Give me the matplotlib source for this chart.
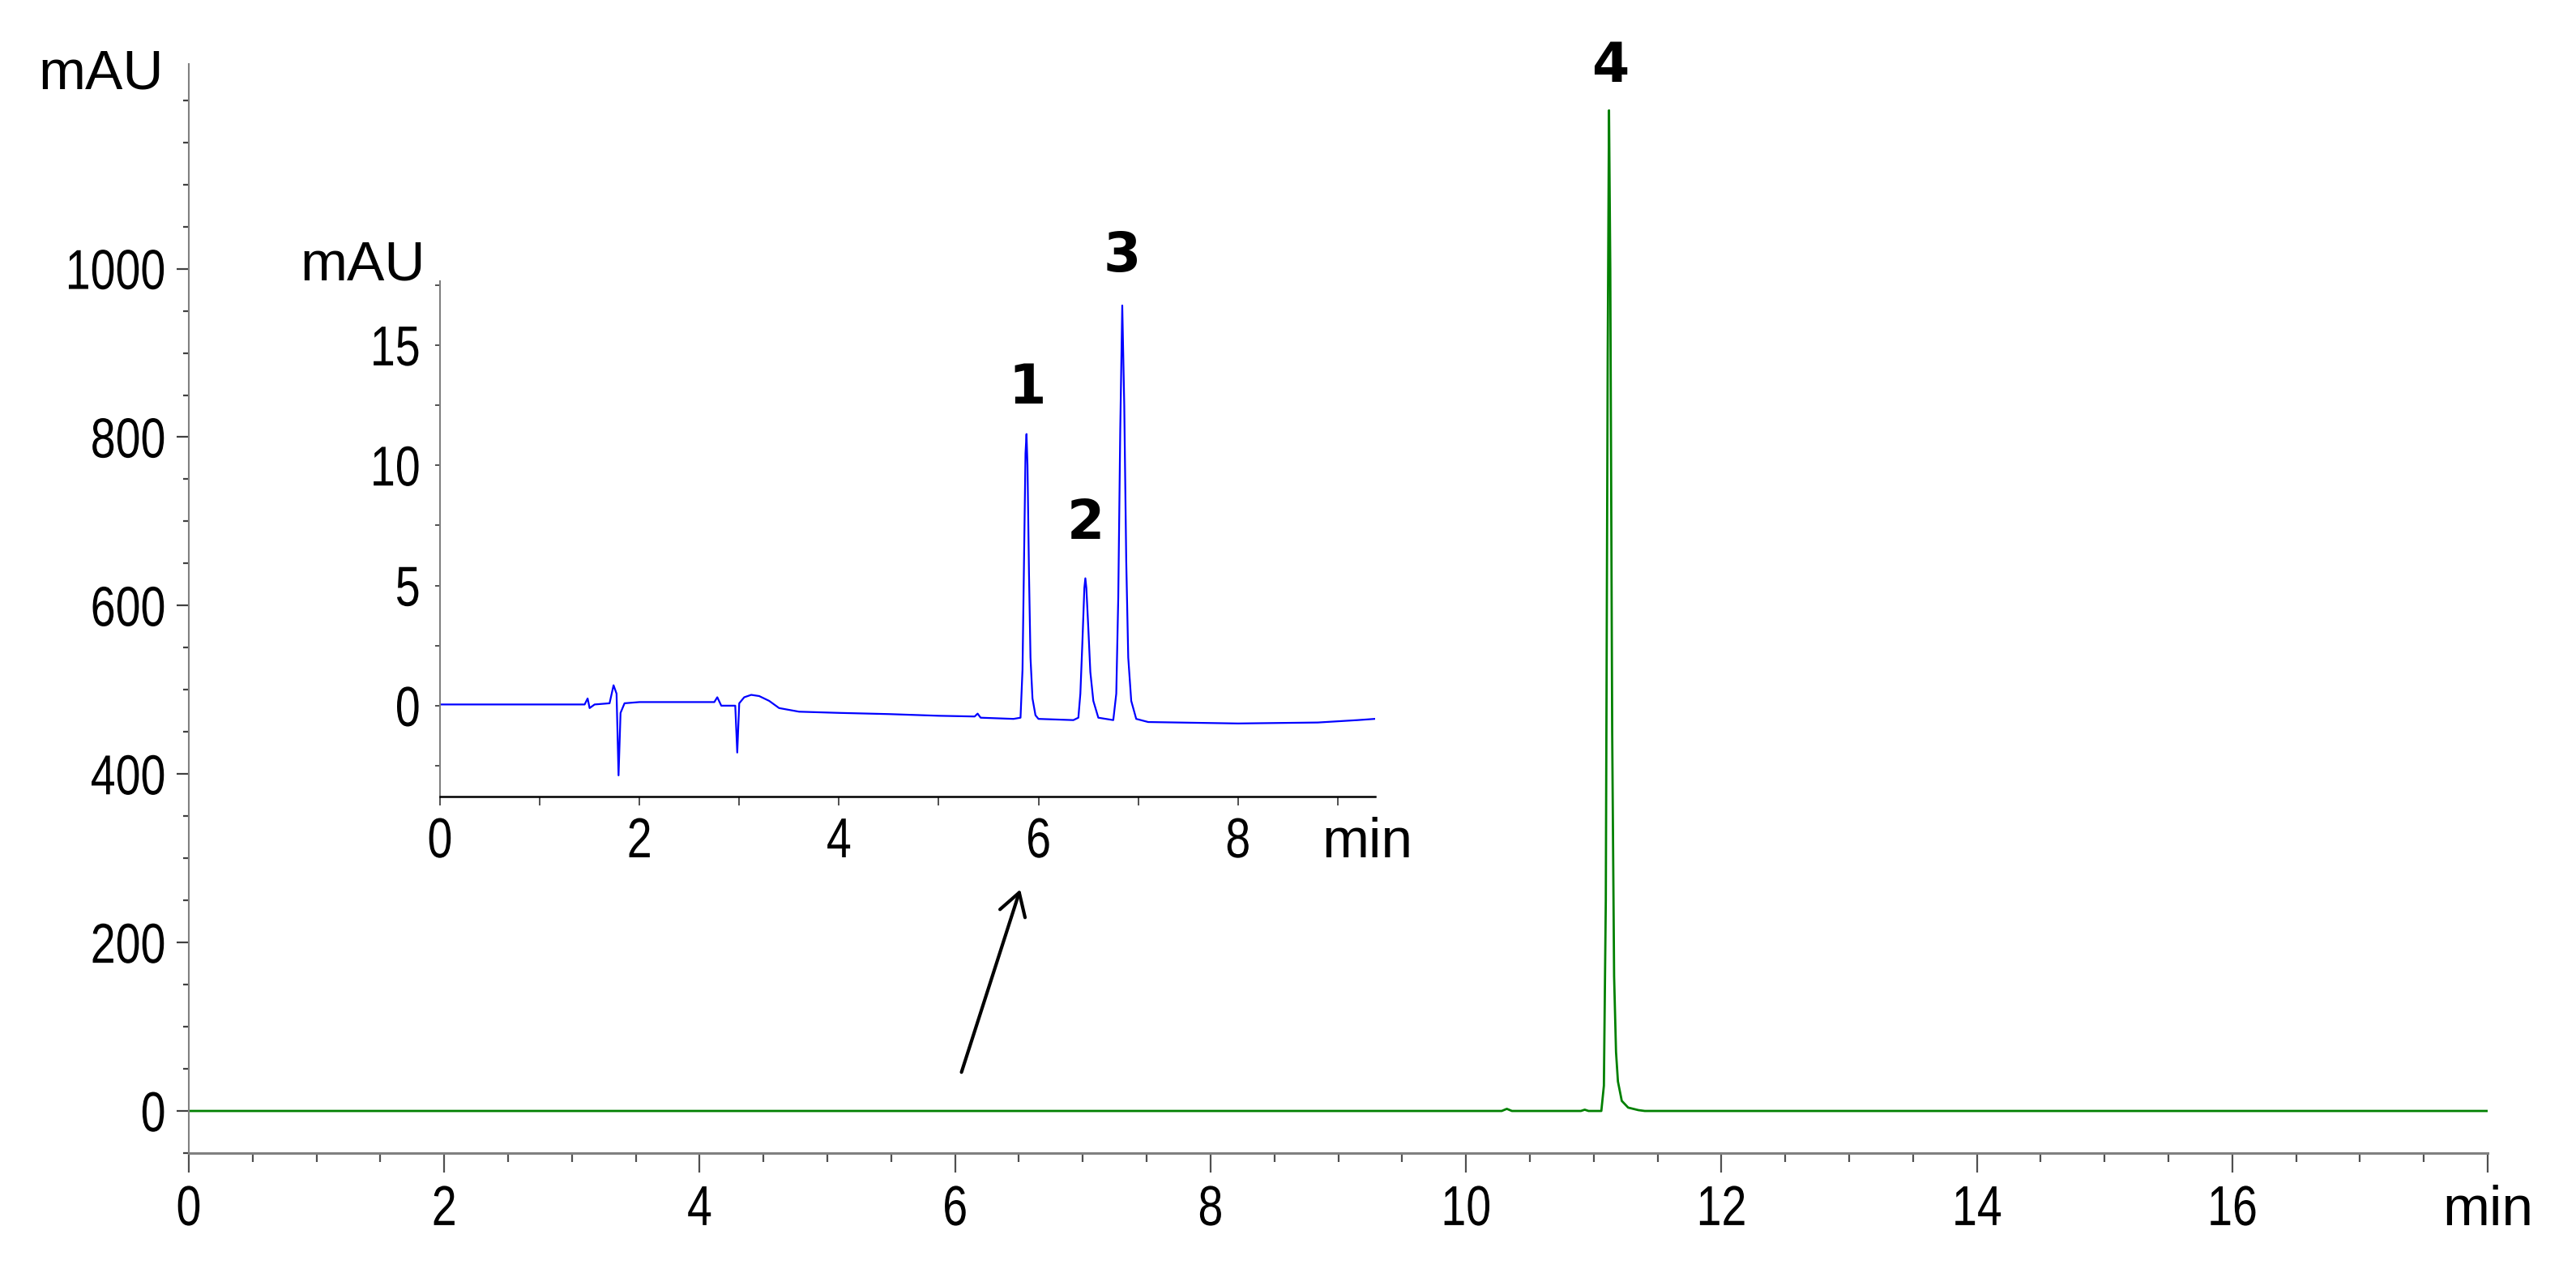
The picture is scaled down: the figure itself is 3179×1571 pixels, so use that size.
"""
    HPLC chromatogram (main trace, peak 4) with an inset zoom of the
    first 9.4 min (peaks 1-3)
"""

import matplotlib
matplotlib.use("Agg")
import matplotlib.pyplot as plt
import matplotlib.ticker as mticker
from matplotlib.patheffects import AbstractPathEffect
from matplotlib.transforms import Affine2D

plt.rcParams['font.family'] = ['Liberation Sans', 'DejaVu Sans']

W, H, DPI = 3179, 1571, 100

# main trace (min, mAU)
main_t = [0.0, 10.28, 10.32, 10.36, 10.90, 10.93, 10.96, 11.06, 11.08, 11.095,
          11.11, 11.12, 11.13, 11.145, 11.16, 11.175, 11.19, 11.22, 11.27,
          11.35, 11.40, 18.0]
main_y = [0.0, 0.0, 2.5, 0.0, 0.0, 1.5, 0.0, 0.0, 30.0, 250.0,
          900.0, 1188.0, 1000.0, 450.0, 160.0, 70.0, 35.0, 12.0, 4.0,
          1.0, 0.0, 0.0]

# inset trace (min, mAU)
ins_t = [0.0, 1.0, 1.45, 1.48, 1.50, 1.55, 1.70, 1.74, 1.77, 1.79, 1.81, 1.85,
         2.0, 2.75, 2.78, 2.82, 2.96, 2.98, 3.00, 3.05, 3.12, 3.20, 3.30,
         3.40, 3.60, 4.0, 4.5, 5.0, 5.36, 5.39, 5.42, 5.75,
         5.82, 5.84, 5.855, 5.87, 5.88, 5.89, 5.905, 5.92, 5.94, 5.97,
         6.0, 6.35, 6.40, 6.42, 6.44, 6.46, 6.47, 6.48, 6.50, 6.52, 6.55, 6.60,
         6.75, 6.78, 6.80, 6.82, 6.84, 6.86, 6.88, 6.90, 6.93, 6.98,
         7.1, 8.0, 8.8, 9.2, 9.37]
ins_y = [0.05, 0.05, 0.05, 0.3, -0.1, 0.05, 0.1, 0.85, 0.5, -2.9, -0.3, 0.1,
         0.15, 0.15, 0.35, 0.0, 0.0, -1.95, 0.1, 0.35, 0.45, 0.4, 0.2,
         -0.1, -0.25, -0.3, -0.35, -0.42, -0.45, -0.33, -0.5, -0.55,
         -0.5, 1.5, 6.0, 10.5, 11.3, 10.0, 5.5, 2.0, 0.3, -0.4,
         -0.55, -0.6, -0.5, 0.5, 2.6, 4.9, 5.3, 4.9, 3.2, 1.4, 0.2, -0.5,
         -0.6, 0.5, 4.5, 11.5, 16.65, 12.5, 6.0, 2.0, 0.2, -0.55,
         -0.68, -0.74, -0.7, -0.6, -0.55]

# peak labels: (label, time, baseline of text in mAU)
main_peaks = [("4", 11.13, 1222)]
ins_peaks = [("1", 5.89, 12.57), ("2", 6.47, 6.94), ("3", 6.84, 18.07)]

main_xticks = [0, 2, 4, 6, 8, 10, 12, 14, 16, 18]
main_xlabels = ["0", "2", "4", "6", "8", "10", "12", "14", "16", "min"]
main_yticks = [0, 200, 400, 600, 800, 1000]
ins_xticks = [0, 2, 4, 6, 8]
ins_yticks = [0, 5, 10, 15]

FS = 50
GREY = '#808080'


class Squeeze(AbstractPathEffect):
    """Draw text a bit condensed (the numbers in the source are narrower than Arial)"""
    def __init__(self, sx=0.8, anchor='center'):
        super().__init__()
        self.sx = sx
        self.anchor = anchor

    def draw_path(self, renderer, gc, tpath, affine, rgbFace=None):
        ext = tpath.get_extents()
        if self.anchor == 'right':
            x0 = ext.x1
        elif self.anchor == 'left':
            x0 = ext.x0
        else:
            x0 = 0.5 * (ext.x0 + ext.x1)
        t = Affine2D().translate(-x0, 0).scale(self.sx, 1).translate(x0, 0) + affine
        renderer.draw_path(gc, tpath, t, rgbFace)


def squeeze_numbers(axis_obj):
    for lab in axis_obj.get_xticklabels():
        if lab.get_text() != "min":
            lab.set_path_effects([Squeeze(0.8, 'center')])
    for lab in axis_obj.get_yticklabels():
        lab.set_path_effects([Squeeze(0.8, 'right')])


fig = plt.figure(figsize=(W / DPI, H / DPI), dpi=DPI)

########################################################
# main chromatogram
########################################################
ax = fig.add_axes([233 / W, 1 - 1423 / H, (3070 - 233) / W, (1423 - 79) / H])
ax.plot(main_t, main_y, color='#008000', lw=2.0, solid_joinstyle='round')
ax.set_xlim(0, 18)
ax.set_ylim(-50, 1243)

for s in ['top', 'right']:
    ax.spines[s].set_visible(False)
ax.spines['bottom'].set_color(GREY)
ax.spines['bottom'].set_linewidth(2.2)
ax.spines['left'].set_color(GREY)
ax.spines['left'].set_linewidth(1.5)

ax.set_xticks(main_xticks)
ax.set_xticklabels(main_xlabels)
ax.xaxis.set_minor_locator(mticker.MultipleLocator(0.5))
ax.set_yticks(main_yticks)
ax.set_yticklabels([str(v) for v in main_yticks])
ax.yaxis.set_minor_locator(mticker.MultipleLocator(50))

ax.tick_params(axis='x', which='major', length=17, width=1.6, color='#505050',
               pad=11, labelsize=FS)
ax.tick_params(axis='x', which='minor', length=8, width=1.6, color='#505050')
ax.tick_params(axis='y', which='major', length=11, width=1.6, color='#404040',
               pad=9, labelsize=FS)
ax.tick_params(axis='y', which='minor', length=5, width=1.6, color='#404040')
squeeze_numbers(ax)

fig.text(202 / W, 1 - 110 / H, "mAU", fontsize=FS, ha='right', va='baseline')

for lab, t, y in main_peaks:
    ax.text(t, y, lab, fontsize=48, fontweight='bold', family='DejaVu Sans',
            ha='center', va='baseline')

# arrow pointing from the main baseline up to the inset
ax.annotate('', xy=(6.51, 263), xytext=(6.05, 46),
            arrowprops=dict(arrowstyle='->,head_length=0.5,head_width=0.3',
                            mutation_scale=39, lw=3, color='black',
                            shrinkA=0, shrinkB=0))

########################################################
# inset
########################################################
axi = fig.add_axes([543 / W, 1 - 983 / H, (1697 - 543) / W, (983 - 347) / H])
axi.plot(ins_t, ins_y, color='#0000ff', lw=1.6)
axi.set_xlim(0, 9.375)
axi.set_ylim(-3.78, 17.66)
axi.patch.set_alpha(0)

for s in ['top', 'right']:
    axi.spines[s].set_visible(False)
axi.spines['bottom'].set_color('black')
axi.spines['bottom'].set_linewidth(1.8)
axi.spines['left'].set_color(GREY)
axi.spines['left'].set_linewidth(1.5)

axi.set_xticks(ins_xticks)
axi.set_xticklabels([str(v) for v in ins_xticks])
axi.xaxis.set_minor_locator(mticker.MultipleLocator(1))
axi.set_yticks(ins_yticks)
axi.set_yticklabels([str(v) for v in ins_yticks])
axi.yaxis.set_minor_locator(mticker.MultipleLocator(2.5))

axi.tick_params(axis='x', which='both', length=8, width=1.4, color='#505050',
                pad=10, labelsize=FS)
axi.tick_params(axis='y', which='both', length=4, width=1.4, color='#505050',
                pad=13, labelsize=FS)
squeeze_numbers(axi)

fig.text(525 / W, 1 - 346 / H, "mAU", fontsize=FS, ha='right', va='baseline')
axi.text(9.30, -75 / 636, "min", fontsize=FS, ha='center', va='baseline',
         transform=axi.get_xaxis_transform())

for lab, t, y in ins_peaks:
    axi.text(t, y, lab, fontsize=48, fontweight='bold', family='DejaVu Sans',
             ha='center', va='baseline', clip_on=False)

fig.savefig("out.png", dpi=DPI)
